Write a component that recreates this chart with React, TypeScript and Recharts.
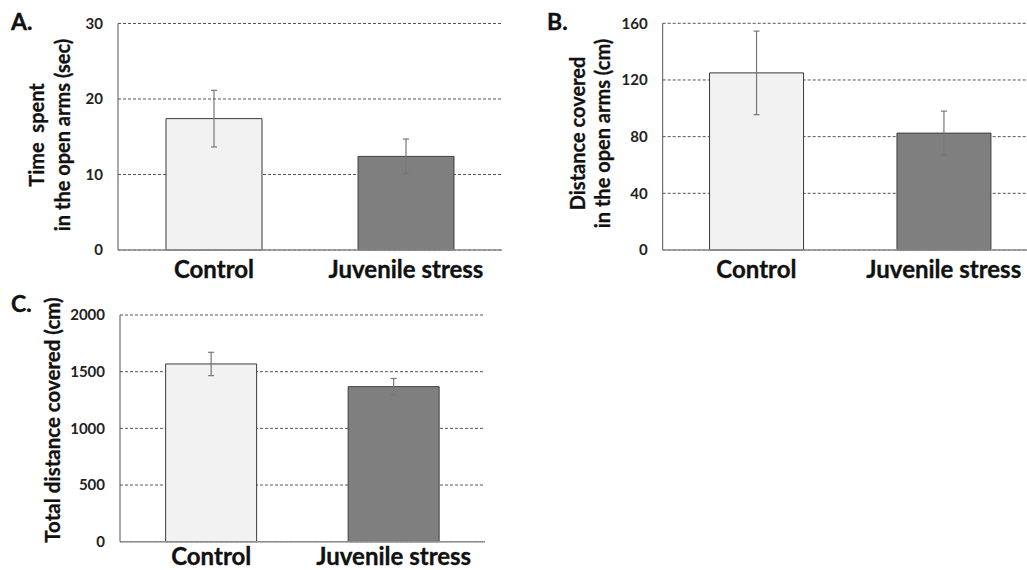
import { Bar, BarChart, CartesianGrid, Cell, ErrorBar, Label, XAxis, YAxis } from "recharts"

// groups shared by all three panels
const groups = ["Control", "Juvenile stress"]
const groupFills = ["#f2f2f2", "#7f7f7f"]
const groupStrokes = ["#3a3a3a", "#404040"]

// A. time spent in the open arms (sec)
const timeOpenArms = [17.4, 12.4]
const timeOpenArmsSem = [3.75, 2.3]
const timeTicks = [0, 10, 20, 30]

// B. distance covered in the open arms (cm)
const distOpenArms = [125, 82.5]
const distOpenArmsSem = [29.5, 15.5]
const distTicks = [0, 40, 80, 120, 160]

// C. total distance covered (cm)
const totalDist = [1568, 1368]
const totalDistSem = [103, 72]
const totalTicks = [0, 500, 1000, 1500, 2000]

const FONT = "Lato, 'Open Sans', 'DejaVu Sans', sans-serif"
const INK = "#111"

const toRows = (values: number[], sem: number[]) =>
  groups.map((name, i) => ({ name, value: values[i], sem: sem[i] }))

type TitleProps = { lines: string[]; cx: number; cy: number; gap: number; fontSize: number }

function AxisTitle({ lines, cx, cy, gap, fontSize }: TitleProps) {
  const first = cy - ((lines.length - 1) * gap) / 2
  return (
    <text
      transform={`rotate(-90, ${cx}, ${cy})`}
      x={cx}
      y={first}
      textAnchor="middle"
      dominantBaseline="central"
      fontSize={fontSize}
      fontWeight={700}
      fill={INK}
      stroke={INK}
      strokeWidth={0.3}
      style={{ whiteSpace: "pre", fontFamily: FONT }}
    >
      {lines.map((line, i) => (
        <tspan key={line} x={cx} y={first + i * gap}>
          {line}
        </tspan>
      ))}
    </text>
  )
}

type PanelProps = {
  left: number
  top: number
  width: number
  height: number
  margin: { top: number; right: number; bottom: number; left: number }
  yAxisWidth: number
  xAxisHeight: number
  xTickMargin: number
  ticks: number[]
  values: number[]
  sem: number[]
  title: TitleProps
}

function Panel(p: PanelProps) {
  const data = toRows(p.values, p.sem)
  const max = p.ticks[p.ticks.length - 1]
  return (
    <div style={{ position: "absolute", left: p.left, top: p.top }}>
      <BarChart width={p.width} height={p.height} data={data} margin={p.margin} barCategoryGap="25%">
        <CartesianGrid vertical={false} stroke="#555" strokeDasharray="3 2" />
        <XAxis
          dataKey="name"
          height={p.xAxisHeight}
          tickLine={false}
          tickMargin={p.xTickMargin}
          stroke="#8c8c8c"
          strokeWidth={1.5}
          tick={{ fontSize: 24, fontWeight: 700, fill: INK, stroke: INK, strokeWidth: 0.35, fontFamily: FONT }}
        />
        <YAxis
          width={p.yAxisWidth}
          domain={[0, max]}
          ticks={p.ticks}
          interval={0}
          tickLine={false}
          tickMargin={9}
          stroke="#555"
          tick={{ fontSize: 15, fontWeight: 700, fill: "#222", fontFamily: FONT }}
        >
          <Label content={() => <AxisTitle {...p.title} />} />
        </YAxis>
        <Bar dataKey="value" isAnimationActive={false}>
          {data.map((entry, i) => (
            <Cell key={entry.name} fill={groupFills[i]} stroke={groupStrokes[i]} strokeWidth={1} />
          ))}
          <ErrorBar dataKey="sem" width={3} stroke="#777" strokeWidth={1.2} isAnimationActive={false} />
        </Bar>
      </BarChart>
    </div>
  )
}

const letterStyle = {
  position: "absolute" as const,
  fontFamily: FONT,
  fontWeight: 700,
  fontSize: 23,
  lineHeight: "23px",
  color: INK,
  WebkitTextStroke: "0.4px #111",
}

export default function App() {
  return (
    <div
      style={{
        position: "fixed",
        left: 0,
        top: 0,
        width: 1027,
        height: 570,
        overflow: "hidden",
        background: "#fff",
        fontFamily: FONT,
      }}
    >
      <Panel
        left={0}
        top={0}
        width={520}
        height={290}
        margin={{ top: 23.5, right: 18, bottom: 0, left: 0 }}
        yAxisWidth={118}
        xAxisHeight={40}
        xTickMargin={5}
        ticks={timeTicks}
        values={timeOpenArms}
        sem={timeOpenArmsSem}
        title={{ lines: ["Time  spent", "in the open arms (sec)"], cx: 49, cy: 135, gap: 26, fontSize: 20 }}
      />
      <Panel
        left={520}
        top={0}
        width={530}
        height={290}
        margin={{ top: 23.3, right: 12.5, bottom: 0, left: 0 }}
        yAxisWidth={142.7}
        xAxisHeight={40}
        xTickMargin={5}
        ticks={distTicks}
        values={distOpenArms}
        sem={distOpenArmsSem}
        title={{ lines: ["Distance covered", "in the open arms (cm)"], cx: 69.2, cy: 133.5, gap: 25, fontSize: 20 }}
      />
      <Panel
        left={0}
        top={290}
        width={520}
        height={280}
        margin={{ top: 25, right: 35, bottom: 0, left: 0 }}
        yAxisWidth={120}
        xAxisHeight={28.3}
        xTickMargin={0.5}
        ticks={totalTicks}
        values={totalDist}
        sem={totalDistSem}
        title={{ lines: ["Total distance covered (cm)"], cx: 51.7, cy: 130, gap: 0, fontSize: 20.5 }}
      />
      <div style={{ ...letterStyle, left: 11, top: 10 }}>A.</div>
      <div style={{ ...letterStyle, left: 547, top: 10 }}>B.</div>
      <div style={{ ...letterStyle, left: 11, top: 292 }}>C.</div>
    </div>
  )
}
